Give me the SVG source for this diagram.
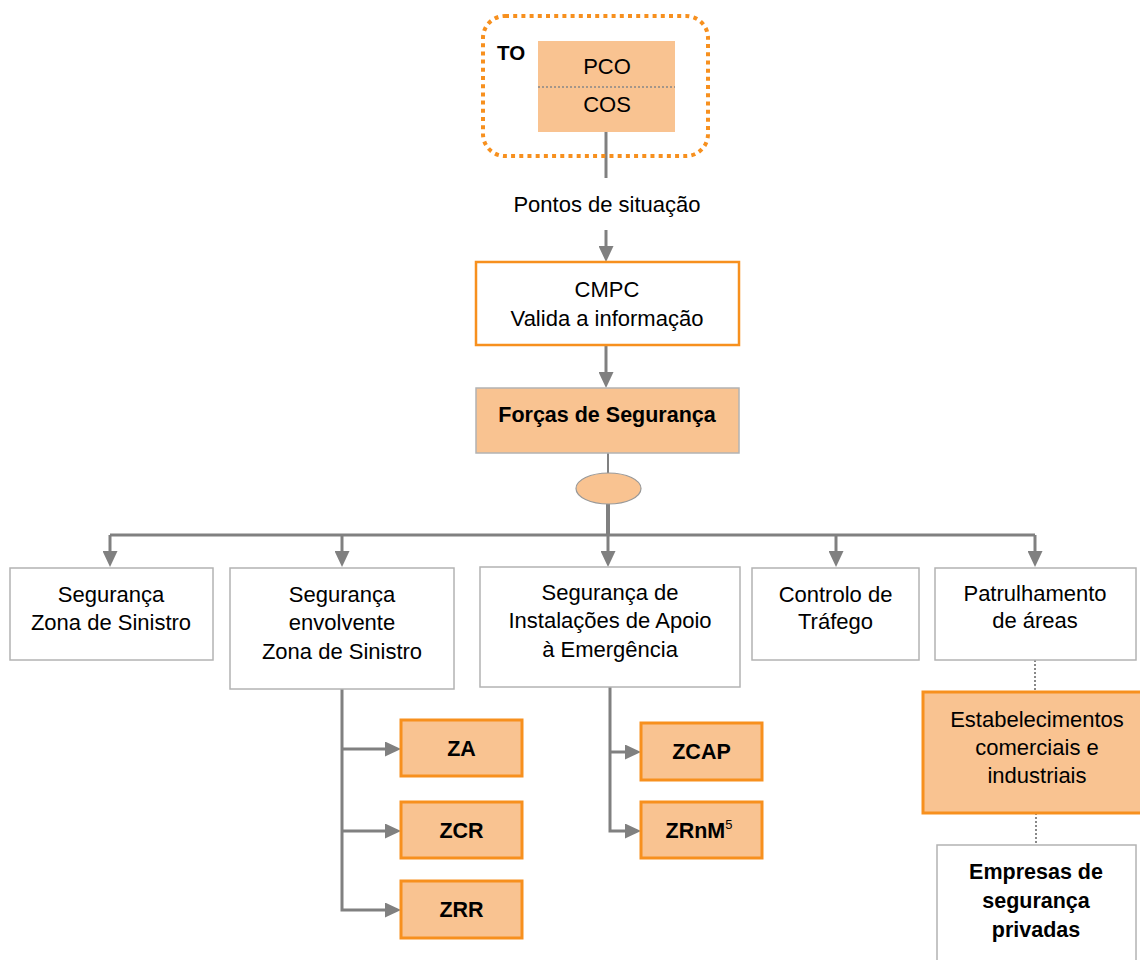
<svg xmlns="http://www.w3.org/2000/svg" width="1140" height="960" viewBox="0 0 1140 960">
<style>
.box{fill:#fff;stroke:#b3b3b3;stroke-width:1.5}
.obox{fill:#F9C391;stroke:#F7901E;stroke-width:3}
.wobox{fill:#fff;stroke:#F7901E;stroke-width:2.5}
.gbox{fill:#F9C391;stroke:#b3b3b3;stroke-width:1.5}
.t{font-family:"Liberation Sans",Arial,sans-serif;font-size:22px;fill:#000;text-anchor:middle}
.b{font-weight:bold;font-size:21.5px}
.ln{stroke:#808080;stroke-width:3;fill:none}
.dot{stroke:#888;stroke-width:2;stroke-dasharray:2 2;fill:none}
</style>
<defs>
<marker id="ah" markerUnits="userSpaceOnUse" markerWidth="16" markerHeight="15" refX="10" refY="7.5" orient="auto">
<path d="M0,0 L16,7.5 L0,15 z" fill="#808080"/>
</marker>
</defs>
<rect x="0" y="0" width="1140" height="960" fill="#fff"/>
<g id="connectors">
<path class="ln" d="M606,132 V178"/>
<path class="ln" d="M606,230 V256" marker-end="url(#ah)"/>
<path class="ln" d="M606,345 V382" marker-end="url(#ah)"/>
<path class="ln" style="stroke-width:2" d="M608,453 V473"/>
<path class="ln" style="stroke-width:4" d="M608,504 V535"/>
<path class="ln" d="M110,535 H1035"/>
<path class="ln" d="M110,535 V561" marker-end="url(#ah)"/>
<path class="ln" d="M342,535 V561" marker-end="url(#ah)"/>
<path class="ln" d="M608,535 V561" marker-end="url(#ah)"/>
<path class="ln" d="M836,535 V561" marker-end="url(#ah)"/>
<path class="ln" d="M1035,535 V561" marker-end="url(#ah)"/>
<path class="ln" d="M342,689 V910 H395" marker-end="url(#ah)"/>
<path class="ln" d="M342,749 H395" marker-end="url(#ah)"/>
<path class="ln" d="M342,831 H395" marker-end="url(#ah)"/>
<path class="ln" d="M610,687 V831 H635" marker-end="url(#ah)"/>
<path class="ln" d="M610,752 H635" marker-end="url(#ah)"/>
<path class="dot" d="M1035,660 V692"/>
<path class="dot" d="M1036,813 V845"/>
</g>
<g id="to">
<rect x="483" y="16" width="225" height="140" rx="22" fill="none" stroke="#F7901E" stroke-width="4" stroke-dasharray="4 4.2"/>
<text class="t b" x="497" y="60" style="text-anchor:start;font-size:20.5px">TO</text>
</g>
<g id="pco-cos">
<rect x="538" y="41" width="137" height="91" fill="#F9C391"/>
<line x1="538" y1="87" x2="675" y2="87" stroke="#888" stroke-width="1.5" stroke-dasharray="2 2"/>
<text class="t" x="607" y="74">PCO</text>
<text class="t" x="607" y="112">COS</text>
</g>
<g id="pontos">
<text class="t" x="607" y="212">Pontos de situação</text>
</g>
<g id="cmpc">
<rect class="wobox" x="476" y="262" width="263" height="83"/>
<text class="t" x="607" y="297">CMPC</text>
<text class="t" x="607" y="326">Valida a informação</text>
</g>
<g id="forcas">
<rect class="gbox" x="476" y="388" width="263" height="65"/>
<text class="t b" x="607" y="422">Forças de Segurança</text>
</g>
<g id="junction">
<ellipse cx="608.5" cy="488.5" rx="32.5" ry="15.5" fill="#F9C391" stroke="#999" stroke-width="1.2"/>
</g>
<g id="seg-zona">
<rect class="box" x="10" y="568" width="203" height="92"/>
<text class="t" x="111" y="602">Segurança</text>
<text class="t" x="111" y="630">Zona de Sinistro</text>
</g>
<g id="seg-envolvente">
<rect class="box" x="230" y="568" width="224" height="121"/>
<text class="t" x="342" y="602">Segurança</text>
<text class="t" x="342" y="630">envolvente</text>
<text class="t" x="342" y="659">Zona de Sinistro</text>
</g>
<g id="seg-instalacoes">
<rect class="box" x="480" y="567" width="260" height="120"/>
<text class="t" x="610" y="600">Segurança de</text>
<text class="t" x="610" y="628">Instalações de Apoio</text>
<text class="t" x="610" y="657">à Emergência</text>
</g>
<g id="controlo">
<rect class="box" x="752" y="568" width="167" height="92"/>
<text class="t" x="835.5" y="602">Controlo de</text>
<text class="t" x="835.5" y="629">Tráfego</text>
</g>
<g id="patrulhamento">
<rect class="box" x="935" y="568" width="201" height="92"/>
<text class="t" x="1035" y="601">Patrulhamento</text>
<text class="t" x="1035" y="628">de áreas</text>
</g>
<g id="za">
<rect class="obox" x="401" y="720" width="121" height="56"/>
<text class="t b" x="461.5" y="756">ZA</text>
</g>
<g id="zcr">
<rect class="obox" x="401" y="802" width="121" height="56"/>
<text class="t b" x="461.5" y="838">ZCR</text>
</g>
<g id="zrr">
<rect class="obox" x="401" y="881" width="121" height="57"/>
<text class="t b" x="461.5" y="917">ZRR</text>
</g>
<g id="zcap">
<rect class="obox" x="641" y="723" width="121" height="57"/>
<text class="t b" x="701.5" y="759">ZCAP</text>
</g>
<g id="zrnm">
<rect class="obox" x="641" y="802" width="121" height="56"/>
<text class="t b" x="699" y="838">ZRnM<tspan style="font-weight:normal;font-size:13px" dy="-9">5</tspan></text>
</g>
<g id="estabelecimentos">
<rect class="obox" x="923" y="692" width="219" height="121"/>
<text class="t" x="1037" y="727">Estabelecimentos</text>
<text class="t" x="1037" y="755">comerciais e</text>
<text class="t" x="1037" y="783">industriais</text>
</g>
<g id="empresas">
<rect class="box" x="937" y="845" width="199" height="130"/>
<text class="t b" x="1036" y="879">Empresas de</text>
<text class="t b" x="1036" y="908">segurança</text>
<text class="t b" x="1036" y="937">privadas</text>
</g>
</svg>
